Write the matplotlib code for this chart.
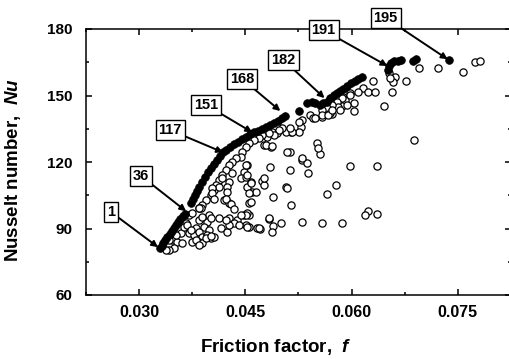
import matplotlib
matplotlib.use("Agg")

import matplotlib.pyplot as plt
from matplotlib.ticker import MultipleLocator, FormatStrFormatter

plt.rcParams["font.family"] = ["Liberation Sans", "DejaVu Sans"]
plt.rcParams["font.weight"] = "bold"
plt.rcParams["mathtext.fontset"] = "custom"
plt.rcParams["mathtext.it"] = "Liberation Sans:italic:bold"
plt.rcParams["mathtext.rm"] = "Liberation Sans:bold"

# ── Pareto-front designs (filled) ─────────────────────────────────────────────
f_front = [0.0330, 0.0332, 0.0334, 0.0337, 0.0340, 0.0343, 0.0346, 0.0349, 0.0352,
           0.0355, 0.0358, 0.0362, 0.0365,
           0.03736, 0.03764, 0.03792, 0.03821, 0.03849, 0.03891, 0.03934, 0.03976,
           0.04019, 0.04061, 0.04104, 0.04146, 0.04189, 0.04231, 0.04288, 0.04344,
           0.04401, 0.04457, 0.04514, 0.04571, 0.04627, 0.04684, 0.04740, 0.04797,
           0.04854, 0.04910, 0.04967, 0.05024, 0.05066,
           0.05264, 0.05377, 0.05434, 0.05490, 0.05547, 0.05590,
           0.05646, 0.05689, 0.05745, 0.05788, 0.05830, 0.05872, 0.05929, 0.05986,
           0.06042, 0.06085, 0.06141,
           0.06509, 0.06523, 0.06552, 0.06594, 0.06651, 0.06693,
           0.06863, 0.06906, 0.07372]
nu_front = [81.0, 82.3, 83.5, 84.6, 86.0, 87.3, 88.8, 90.1, 91.6,
            92.9, 94.3, 95.7, 96.6,
            101.5, 103.3, 105.1, 106.9, 108.7, 111.0, 113.2, 115.5,
            117.3, 119.1, 120.9, 122.7, 124.5, 125.4, 126.8, 128.1,
            129.0, 130.4, 131.3, 132.6, 133.5, 134.0, 134.9, 135.8,
            136.7, 137.6, 138.5, 139.9, 140.8,
            143.0, 146.6, 147.1, 146.6, 145.7, 146.6,
            147.1, 148.9, 150.2, 151.1, 152.0, 152.9, 154.3, 155.6,
            156.5, 157.4, 158.3,
            161.5, 163.3, 164.7, 165.6, 165.6, 166.0,
            165.6, 166.5, 166.0]

# ── Other designs (open) ──────────────────────────────────────────────────────
f_other = [
    0.04585, 0.04740, 0.04769, 0.05080, 0.05773, 0.05646, 0.04896, 0.04599, 0.04557,
    0.04557, 0.04557, 0.04840, 0.04896, 0.05009, 0.04882, 0.04712, 0.05306, 0.05575,
    0.05858, 0.05137, 0.05547, 0.05306, 0.05363, 0.05391, 0.05972, 0.06354, 0.04854,
    0.05137, 0.04769, 0.06226, 0.06184, 0.06354, 0.06877, 0.06453,
    0.0774, 0.0781, 0.07571, 0.07217, 0.06948, 0.06764, 0.06566, 0.06297, 0.06608,
    0.06580, 0.06523, 0.06538,
    0.06156, 0.06226, 0.06325, 0.06085, 0.05972, 0.05872, 0.05900, 0.05759, 0.05858,
    0.06028, 0.06028, 0.05717, 0.05972, 0.05858, 0.05788, 0.05802, 0.05717, 0.05646,
    0.05575, 0.05689, 0.05575, 0.05406, 0.05448, 0.05306, 0.05292, 0.05264, 0.05151,
    0.05080, 0.05024, 0.04953, 0.04882, 0.04811, 0.04769, 0.04868, 0.05505, 0.05519,
    0.05264, 0.05165, 0.05123, 0.05476, 0.05575, 0.05660, 0.05717, 0.05830, 0.05929,
    0.05306,
    0.04981, 0.04910, 0.04840, 0.04740, 0.04698, 0.04627, 0.04557, 0.04514, 0.04457,
    0.04443, 0.04373, 0.04316, 0.04274, 0.04231, 0.04174, 0.04132, 0.04090, 0.04061,
    0.04019, 0.03948, 0.03891, 0.03849,
    0.04797, 0.04882, 0.04528, 0.04486, 0.04443, 0.04514, 0.04528, 0.04656, 0.04316,
    0.04274, 0.04245, 0.04174, 0.04132, 0.04033, 0.04203, 0.04274, 0.04585, 0.05094,
    0.05094, 0.05151,
    0.04033, 0.04245, 0.04557, 0.04061, 0.04231, 0.04302, 0.03877, 0.04344, 0.03991,
    0.04132, 0.04274, 0.04387, 0.04486, 0.04528, 0.04514, 0.03708, 0.03849, 0.03962,
    0.04019, 0.03665, 0.03807, 0.03920, 0.03991, 0.04160, 0.04245, 0.04344, 0.04415,
    0.04670, 0.03708, 0.03778, 0.03849, 0.03891, 0.03962, 0.04019, 0.03750, 0.03849,
    0.03891, 0.04061, 0.03467, 0.03538, 0.03608, 0.03495, 0.03425, 0.03594, 0.03637,
    0.03382, 0.03807, 0.03849, 0.03948, 0.04019, 0.04698, 0.04840, 0.04528, 0.04514,
    0.04514, 0.04528, 0.04585, 0.04443, 0.04274, 0.04231,
    0.03750, 0.03849, 0.03891, 0.03679, 0.03736, 0.03524, 0.03425,
]
nu_other = [
    111.0, 111.4, 109.6, 108.7, 109.6, 105.6, 104.2, 106.5, 101.5,
    96.1, 90.7, 94.3, 91.1, 92.5, 88.4, 89.8, 92.9, 92.5,
    92.5, 124.5, 123.6, 120.9, 119.6, 115.0, 118.2, 118.2, 117.7,
    116.4, 112.8, 97.9, 96.1, 96.5, 129.9, 145.3,
    165.1, 165.6, 160.6, 162.4, 162.4, 156.5, 151.6, 156.5, 158.3,
    156.1, 160.2, 158.0,
    153.4, 151.6, 151.6, 151.6, 151.1, 149.3, 148.0, 146.6, 145.3,
    146.6, 143.0, 141.7, 150.2, 148.9, 147.1, 144.8, 145.7, 144.4,
    143.5, 142.1, 140.3, 141.2, 139.9, 139.0, 135.8, 133.5, 133.5,
    133.5, 135.3, 133.1, 133.5, 131.3, 127.7, 126.8, 128.6, 126.3,
    138.0, 133.5, 135.3, 139.9, 141.2, 141.2, 143.5, 143.5, 145.7,
    121.8,
    134.4, 132.2, 133.1, 132.2, 130.8, 129.9, 128.6, 126.8, 124.5,
    122.3, 121.8, 120.0, 118.7, 116.4, 114.1, 111.9, 109.6, 107.4,
    105.1, 102.9, 100.6, 99.3,
    127.7, 127.2, 118.7, 115.5, 112.8, 113.2, 108.7, 106.5, 115.0,
    111.0, 108.7, 112.8, 108.7, 108.3, 102.9, 101.5, 102.0, 124.5,
    108.3, 100.6,
    106.0, 106.5, 106.0, 103.3, 103.3, 101.1, 99.3, 98.8, 96.1,
    94.7, 94.7, 93.8, 96.1, 97.0, 91.6, 96.1, 93.8, 92.9,
    94.7, 92.5, 90.2, 90.7, 89.3, 90.2, 88.4, 92.5, 91.6,
    90.2, 88.0, 87.1, 88.4, 86.2, 87.1, 85.7, 83.9, 83.9,
    83.5, 86.2, 84.8, 83.9, 83.5, 81.2, 80.3, 88.0, 90.7,
    80.3, 84.8, 82.6, 85.7, 86.6, 90.2, 94.7, 90.7, 96.1,
    118.7, 114.1, 110.5, 96.1, 91.6, 93.8,
    97.0, 99.3, 95.2, 91.6, 89.3, 87.1, 84.8,
]

# ── Design labels: text, label position, arrow tip ────────────────────────────
label_text = ["1", "36", "117", "151", "168", "182", "191", "195"]
label_xy = [(0.02604, 97.4), (0.03028, 113.7), (0.03439, 134.4), (0.03948, 145.7),
            (0.04457, 157.4), (0.05038, 166.0), (0.05604, 179.5), (0.06481, 185.0)]
tip_xy = [(0.03283, 81.2), (0.03679, 97.4), (0.04203, 124.1), (0.04613, 133.1),
          (0.05009, 142.6), (0.05632, 148.4), (0.06523, 163.0), (0.07372, 166.0)]

fig = plt.figure(figsize=(5.10, 3.59), dpi=100)
ax = fig.add_axes([86 / 510, 64 / 359, 425 / 510, 266 / 359])

ax.scatter(f_other, nu_other, s=27, facecolors="white", edgecolors="black",
           linewidths=0.9, zorder=2)
ax.scatter(f_front, nu_front, s=30, color="black", edgecolors="black",
           linewidths=0.6, zorder=3)

for txt, xy, tip in zip(label_text, label_xy, tip_xy):
    ax.annotate(txt, xy=tip, xytext=xy, ha="center", va="center",
                fontsize=10.5, fontweight="bold", annotation_clip=False,
                bbox=dict(boxstyle="square,pad=0.2", fc="white", ec="black", lw=1.0),
                arrowprops=dict(arrowstyle="-|>", color="black", lw=1.4,
                                mutation_scale=9, shrinkA=0, shrinkB=1),
                zorder=5)

ax.set_xlim(0.0225, 0.0825)
ax.set_ylim(60, 180)
ax.xaxis.set_major_locator(MultipleLocator(0.015))
ax.xaxis.set_minor_locator(MultipleLocator(0.0075))
ax.xaxis.set_major_formatter(FormatStrFormatter("%.3f"))
ax.yaxis.set_major_locator(MultipleLocator(30))
ax.yaxis.set_minor_locator(MultipleLocator(15))

ax.tick_params(which="both", direction="in", top=True, right=True, width=1.1)
ax.tick_params(which="major", length=4)
ax.tick_params(which="minor", length=2.5)
ax.tick_params(axis="x", labelsize=11.5, pad=7)
ax.tick_params(axis="y", labelsize=11, pad=10)
for sp in ax.spines.values():
    sp.set_linewidth(1.1)

fig.text(276 / 510, 1 - 347 / 359, r"Friction factor,  $f$", ha="center", va="center",
         fontsize=13.5, fontweight="bold")
fig.text(13 / 510, 1 - 170 / 359, r"Nusselt number,  $Nu$", ha="center", va="center",
         rotation=90, fontsize=13.5, fontweight="bold")

fig.savefig("out.png", dpi=100)
